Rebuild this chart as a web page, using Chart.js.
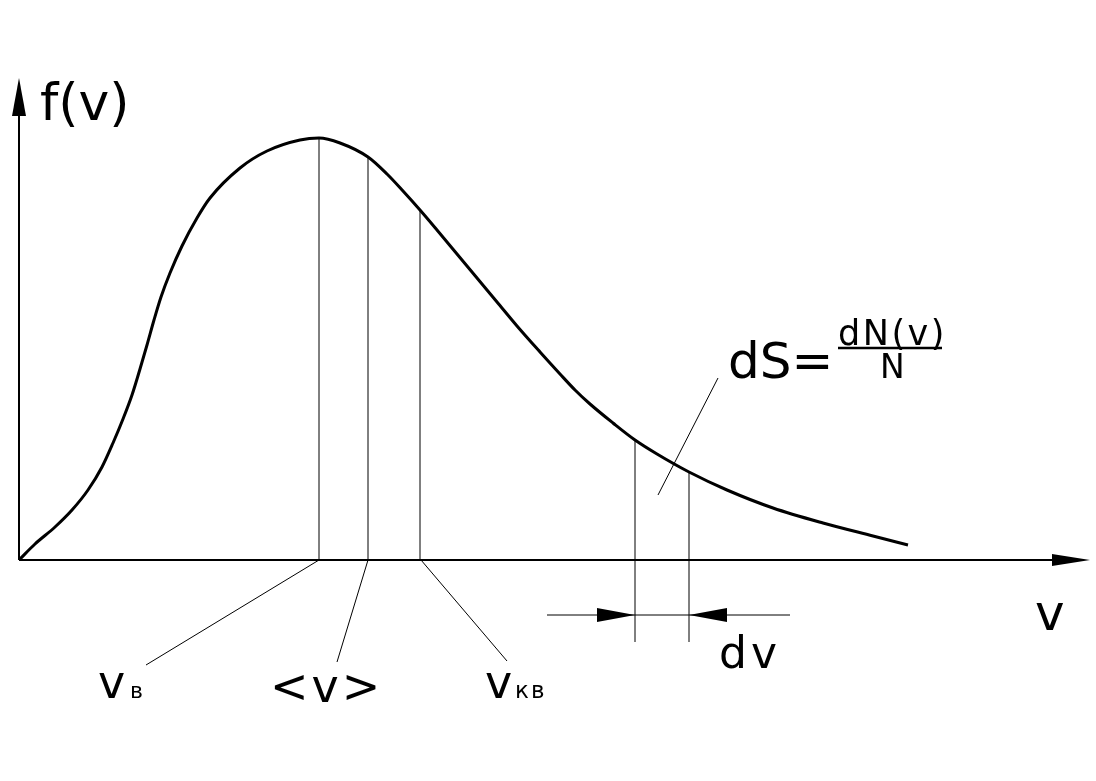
<!DOCTYPE html>
<html lang="ru">
<head>
    <meta charset="UTF-8">
    <title>f(v)</title>
    <script src="https://cdn.jsdelivr.net/npm/chart.js"></script>
    <style>
        html, body { margin: 0; padding: 0; background: #fff; }
        #wrap { width: 1096px; height: 781px; position: relative; }
    </style>
</head>
<body>
    <div id="wrap"><canvas id="chart"></canvas></div>

    <script>
        // Кривая распределения f(v)
        const vValues = [0, 0.16, 0.36, 0.53, 0.69, 0.83, 0.94, 1.04, 1.13, 1.21, 1.28, 1.35, 1.42, 1.51, 1.63, 1.78,
                         1.91, 2.21, 2.48, 2.81, 3.00, 3.21, 3.49, 3.68, 3.84, 4.01, 4.18, 4.38, 4.58, 4.78, 4.98,
                         5.21, 5.41, 5.56, 5.71, 5.94, 6.16, 6.38, 6.70, 7.08, 7.54, 8.04, 8.54, 8.89];
        const fValues = [0, 0.16, 0.33, 0.50, 0.70, 0.93, 1.17, 1.41, 1.65, 1.91, 2.15, 2.40, 2.63, 2.87, 3.14, 3.42,
                         3.62, 3.92, 4.09, 4.20, 4.22, 4.17, 4.03, 3.86, 3.69, 3.50, 3.30, 3.06, 2.82, 2.58, 2.34,
                         2.08, 1.86, 1.70, 1.56, 1.37, 1.20, 1.06, 0.88, 0.70, 0.52, 0.37, 0.24, 0.15];

        // характерные скорости: v_в, <v>, v_кв
        const markV = [3.00, 3.49, 4.01];
        // интервал dv
        const dvRange = [6.16, 6.70];

        const axisEnd = { v: 10.71, f: 4.82 };
        const dvLineBottom = -0.82;

        function fAt(v) {
            return fValues[vValues.indexOf(v)];
        }

        const datasets = [{
            data: vValues.map((v, i) => ({ x: v, y: fValues[i] })),
            borderColor: '#000',
            borderWidth: 3,
            pointRadius: 0,
            showLine: true,
            cubicInterpolationMode: 'monotone'
        }];
        markV.forEach(v => {
            datasets.push({
                data: [{ x: v, y: 0 }, { x: v, y: fAt(v) }],
                borderColor: '#000', borderWidth: 1, pointRadius: 0, showLine: true
            });
        });
        dvRange.forEach(v => {
            datasets.push({
                data: [{ x: v, y: dvLineBottom }, { x: v, y: fAt(v) }],
                borderColor: '#000', borderWidth: 1, pointRadius: 0, showLine: true
            });
        });

        // выноски (от точки к подписи)
        const leaders = [
            [[3.00, 0], [1.27, -1.05]],
            [[3.49, 0], [3.18, -1.02]],
            [[4.02, 0], [4.88, -1.01]],
            [[6.99, 1.82], [6.39, 0.65]]
        ];

        // подписи: текст, v, f (левый край, базовая линия), размер шрифта, разрядка
        const labels = [
            ['f(v)', 0.21, 4.40, 52, 0],
            ['dS=', 7.09, 1.82, 50, 0],
            ['dN(v)', 8.19, 2.15, 35, 2.5],
            ['N', 8.61, 1.82, 33, 0],
            ['v', 10.16, -0.70, 50, 0],
            ['dv', 7.00, -1.08, 44, 4],
            ['v', 0.79, -1.38, 46, 0],
            ['в', 1.11, -1.38, 22, 0],
            ['<v>', 2.51, -1.42, 46, 3],
            ['v', 4.66, -1.38, 46, 0],
            ['кв', 4.96, -1.38, 23, 2]
        ];

        function arrow(ctx, tip, dir, len, half) {
            // dir: единичный вектор направления стрелки
            const bx = tip[0] - dir[0] * len, by = tip[1] - dir[1] * len;
            ctx.beginPath();
            ctx.moveTo(tip[0], tip[1]);
            ctx.lineTo(bx - dir[1] * half, by + dir[0] * half);
            ctx.lineTo(bx + dir[1] * half, by - dir[0] * half);
            ctx.closePath();
            ctx.fill();
        }

        const drawingPlugin = {
            id: 'drawing',
            beforeDatasetsDraw(chart) {
                const ctx = chart.ctx;
                const xs = chart.scales.x, ys = chart.scales.y;
                const px = v => xs.getPixelForValue(v), py = f => ys.getPixelForValue(f);
                ctx.save();
                ctx.strokeStyle = '#000';
                ctx.fillStyle = '#000';
                ctx.lineWidth = 2;
                // оси
                ctx.beginPath();
                ctx.moveTo(px(0), py(0));
                ctx.lineTo(px(axisEnd.v) - 20, py(0));
                ctx.moveTo(px(0), py(0));
                ctx.lineTo(px(0), py(axisEnd.f) + 20);
                ctx.stroke();
                arrow(ctx, [px(axisEnd.v), py(0)], [1, 0], 38, 6);
                arrow(ctx, [px(0), py(axisEnd.f)], [0, -1], 38, 7);
                ctx.restore();
            },
            afterDatasetsDraw(chart) {
                const ctx = chart.ctx;
                const xs = chart.scales.x, ys = chart.scales.y;
                const px = v => xs.getPixelForValue(v), py = f => ys.getPixelForValue(f);
                ctx.save();
                ctx.strokeStyle = '#000';
                ctx.fillStyle = '#000';

                // выноски
                ctx.lineWidth = 1;
                leaders.forEach(l => {
                    ctx.beginPath();
                    ctx.moveTo(px(l[0][0]), py(l[0][1]));
                    ctx.lineTo(px(l[1][0]), py(l[1][1]));
                    ctx.stroke();
                });

                // размерная линия dv
                const yDim = py(-0.55);
                ctx.beginPath();
                ctx.moveTo(px(5.28), yDim);
                ctx.lineTo(px(7.71), yDim);
                ctx.stroke();
                arrow(ctx, [px(dvRange[0]), yDim], [1, 0], 38, 7);
                arrow(ctx, [px(dvRange[1]), yDim], [-1, 0], 38, 7);

                // дробная черта
                ctx.lineWidth = 2.5;
                ctx.beginPath();
                ctx.moveTo(px(8.19), py(2.12));
                ctx.lineTo(px(9.23), py(2.12));
                ctx.stroke();

                // подписи
                ctx.textAlign = 'left';
                ctx.textBaseline = 'alphabetic';
                labels.forEach(t => {
                    ctx.font = t[3] + 'px "DejaVu Sans"';
                    ctx.letterSpacing = t[4] + 'px';
                    ctx.fillText(t[0], px(t[1]), py(t[2]));
                });
                ctx.letterSpacing = '0px';
                ctx.restore();
            }
        };

        new Chart(document.getElementById('chart'), {
            type: 'scatter',
            data: { datasets: datasets },
            options: {
                responsive: true,
                maintainAspectRatio: false,
                animation: false,
                events: [],
                layout: { padding: 0 },
                plugins: { legend: { display: false }, tooltip: { enabled: false } },
                scales: {
                    x: { type: 'linear', display: false, min: -0.19, max: 10.77 },
                    y: { type: 'linear', display: false, min: -2.21, max: 5.60 }
                }
            },
            plugins: [drawingPlugin]
        });
    </script>
</body>
</html>
